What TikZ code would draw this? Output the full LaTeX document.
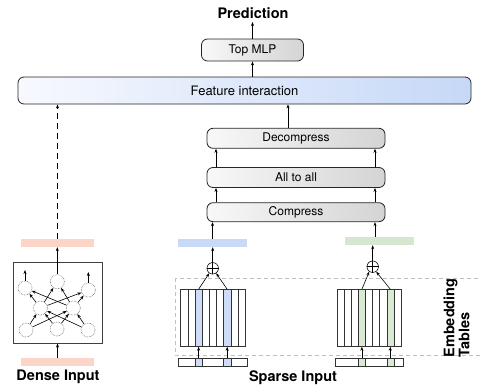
\documentclass[tikz,border=0pt]{standalone}
\usepackage{fontspec}
\setmainfont{TeX Gyre Heros}
\usetikzlibrary{arrows.meta}

\definecolor{densepink}{RGB}{251,214,200}
\definecolor{barblue}{RGB}{201,218,246}
\definecolor{bargreen}{RGB}{213,232,207}
\definecolor{tblblue}{RGB}{207,220,247}
\definecolor{tblgreen}{RGB}{217,234,211}
\definecolor{featl}{RGB}{247,249,254}
\definecolor{featr}{RGB}{198,216,247}
\definecolor{stagel}{RGB}{248,248,248}
\definecolor{stager}{RGB}{212,212,212}

\begin{document}
\begin{tikzpicture}[x=1pt,y=-1pt,
  arr/.style={-{Stealth[length=4pt,width=3pt]},line width=0.6pt},
  stage/.style={draw=black!85,line width=0.8pt,rounded corners=6pt,left color=stagel,right color=stager,
    inner sep=0pt,font=\fontsize{12}{14}\selectfont},
  bar/.style={inner sep=0pt,minimum width=69,minimum height=8},
  col/.style={draw=black!80,line width=0.5pt,inner sep=0pt,minimum width=7.15,minimum height=57},
  neuron/.style={circle,draw=black!60,densely dotted,line width=0.6pt,minimum size=14,inner sep=0pt},
  plus/.style={circle,draw,line width=0.6pt,minimum size=11.5,inner sep=0pt},
  bigtxt/.style={font=\bfseries\fontsize{14.5}{15}\selectfont}]
  \useasboundingbox (0,0) rectangle (480,388);

  % top stack
  \node[bigtxt] (pred) at (253,13) {Prediction};
  \node[stage,minimum width=102,minimum height=22] (mlp) at (252.5,50) {Top MLP};
  \node[stage,left color=featl,right color=featr,minimum width=453,minimum height=27,
    font=\fontsize{13}{15}\selectfont] (feat) at (244.5,90.5) {Feature interaction};
  \node[stage,minimum width=178,minimum height=20] (dec) at (296,138.3) {Decompress};
  \node[stage,minimum width=178,minimum height=20] (a2a) at (296,177.5) {All to all};
  \node[stage,minimum width=178,minimum height=19] (cmp) at (296,212.2) {Compress};

  \coordinate (lx) at (216,0);
  \coordinate (rx) at (375,0);

  \draw[arr] (mlp.north) -- (mlp.north |- pred.south);
  \draw[arr] (mlp.south |- feat.north) -- (mlp.south);
  \draw[arr] ([xshift=-8pt]dec.north) -- ([xshift=-8pt]dec.north |- feat.south);
  \draw[arr] (a2a.north -| lx) -- (dec.south -| lx);
  \draw[arr] (a2a.north -| rx) -- (dec.south -| rx);
  \draw[arr] (cmp.north -| lx) -- (a2a.south -| lx);
  \draw[arr] (cmp.north -| rx) -- (a2a.south -| rx);

  % dense side
  \node[draw=black!75,line width=1pt,minimum width=89,minimum height=81,inner sep=0pt] (nn) at (57.5,302.5) {};
  \node[bar,fill=densepink,minimum width=73] (dout) at (57.5,243) {};
  \node[bar,fill=densepink,minimum width=73] (din) at (57.5,362) {};
  \node[bigtxt] (dlab) at (58,377) {Dense Input};

  \foreach \n/\x/\y in {t1/25/288,t2/57.3/281.7,t3/88.3/290,m1/40.5/308,m2/73.3/308,b1/26/330,b2/57/329,b3/88/330}
    \node[neuron] (\n) at (\x,\y) {};
  \foreach \a in {b1,b2,b3}
    \foreach \b in {m1,m2}
      \draw[arr] (\a) -- (\b);
  \foreach \a in {m1,m2}
    \foreach \b in {t1,t2,t3}
      \draw[arr] (\a) -- (\b);

  \coordinate (o1) at (25,270);
  \coordinate (o3) at (88.3,272);
  \draw[arr] (t1.north) -- (o1);
  \draw[arr] (t3.north) -- (o3);
  \draw[arr] (t2.north) -- (t2.north |- dout.south);
  \draw[arr] (din.north) -- (din.north |- nn.south);
  \draw[arr,dash pattern=on 6pt off 4pt] (dout.north) -- (dout.north |- feat.south);

  % sparse side
  \draw[draw=black!25,line width=0.8pt,dash pattern=on 4pt off 3pt] (175,278) rectangle (484,355);
  \node[bigtxt,rotate=90,align=left] (emb) at (456.5,318) {Embedding\\Tables};
  \node[bigtxt] (slab) at (293,378) {Sparse Input};

  \foreach \c [count=\i from 0] in {white,white,tblblue,white,white,white,tblblue,white,white}
    \node[col,fill=\c] (bt\i) at ({184.3+7.15*\i},318) {};
  \node[draw=black!80,line width=0.5pt,minimum width=69,minimum height=8,inner sep=0pt] (bidx) at (212.5,362) {};
  \node[col,fill=tblblue,minimum height=8] (bi1) at (bt2 |- bidx) {};
  \node[col,fill=tblblue,minimum height=8] (bi2) at (bt6 |- bidx) {};
  \draw[arr] (bi1.north) -- (bt2.south);
  \draw[arr] (bi2.north) -- (bt6.south);

  \node[plus] (bsum) at (212.7,268.3) {};
  \draw[line width=0.6pt] (bsum.north) -- (bsum.south) (bsum.west) -- (bsum.east);
  \draw[arr] (bt2.north) -- (bsum.-125);
  \draw[arr] (bt6.north) -- (bsum.-55);
  \node[bar,fill=barblue] (bbar) at (212.5,243) {};
  \draw[arr] (bsum.north) -- (bsum.north |- bbar.south);
  \draw[arr] (bbar.north) -- (bbar.north |- cmp.south);

  \foreach \c [count=\i from 0] in {white,white,white,tblgreen,white,white,white,tblgreen,white}
    \node[col,fill=\c,minimum width=7.11] (gt\i) at ({340.55+7.11*\i},318) {};
  \node[draw=black!80,line width=0.5pt,minimum width=68,minimum height=8,inner sep=0pt] (gidx) at (369,362) {};
  \node[col,fill=tblgreen,minimum width=7.11,minimum height=8] (gi1) at (gt3 |- gidx) {};
  \node[col,fill=tblgreen,minimum width=7.11,minimum height=8] (gi2) at (gt7 |- gidx) {};
  \draw[arr] (gi1.north) -- (gt3.south);
  \draw[arr] (gi2.north) -- (gt7.south);

  \node[plus] (gsum) at (372.7,266.7) {};
  \draw[line width=0.6pt] (gsum.north) -- (gsum.south) (gsum.west) -- (gsum.east);
  \draw[arr] (gt3.north) -- (gsum.-125);
  \draw[arr] (gt7.north) -- (gsum.-55);
  \node[bar,fill=bargreen] (gbar) at (379.5,241) {};
  \draw[arr] (gsum.north) -- (gsum.north |- gbar.south);
  \draw[arr] ([xshift=-4.5pt]gbar.north) -- ([xshift=-4.5pt]gbar.north |- cmp.south);
\end{tikzpicture}
\end{document}
